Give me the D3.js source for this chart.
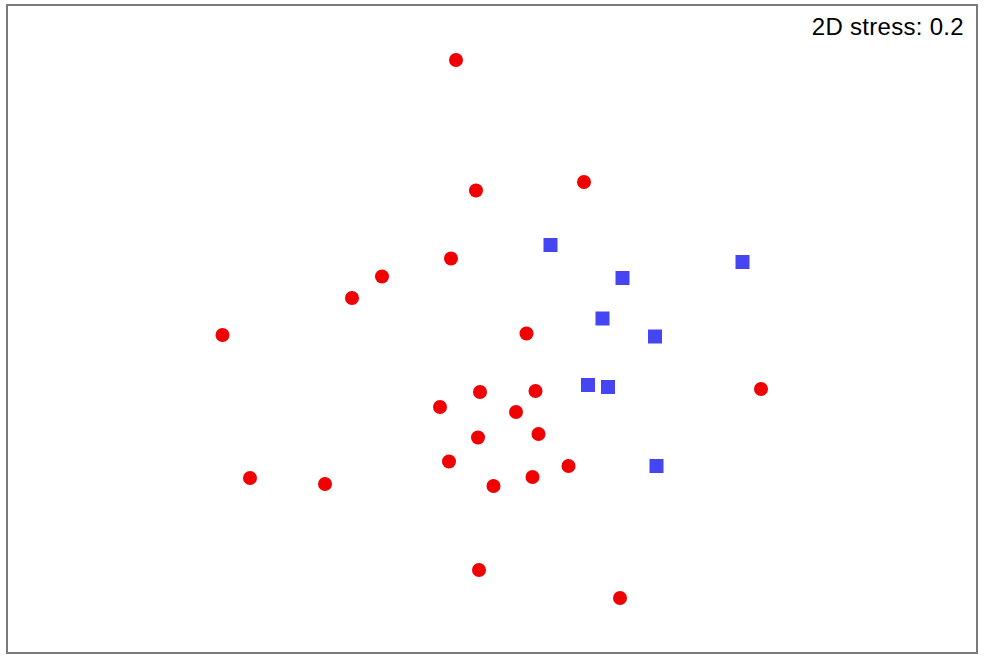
<!DOCTYPE html>
<html>
<head>
<meta charset="utf-8">
<script src="https://cdn.jsdelivr.net/npm/d3@7"></script>
<style>
  html, body { margin: 0; padding: 0; background: #ffffff; }
  svg { display: block; }
</style>
</head>
<body>
<svg id="chart" width="985" height="659"></svg>
<script>
// NMDS ordination scores (arbitrary units)
const groupAx = [-0.365, -0.165, 0.915, -0.415, -1.105, -1.405, -2.70, 0.34, 2.685, -0.125, 0.43, -0.525,
                 0.235, -0.145, 0.46, -0.435, 0.76, 0.40, 0.01, -2.425, -1.675, -0.135, 1.275];
const groupAy = [2.695, 1.39, 1.475, 0.71, 0.53, 0.315, -0.055, -0.04, -0.595, -0.625, -0.615, -0.775,
                 -0.825, -1.08, -1.045, -1.32, -1.365, -1.475, -1.565, -1.485, -1.545, -2.405, -2.685];
const groupBx = [0.58, 1.30, 2.50, 1.10, 1.625, 0.955, 1.155, 1.64];
const groupBy = [0.845, 0.515, 0.675, 0.11, -0.07, -0.555, -0.575, -1.365];
const stressLabel = "2D stress: 0.2";

(function () {
  const svg = d3.select("#chart");
  const pl = 7, pr = 977, pt = 5, pb = 653;

  const x = d3.scaleLinear().domain([-4.855, 4.845]).range([pl, pr]);
  const y = d3.scaleLinear().domain([-3.235, 3.245]).range([pb, pt]);

  svg.append("rect")
    .attr("x", pl).attr("y", pt)
    .attr("width", pr - pl).attr("height", pb - pt)
    .attr("fill", "#ffffff")
    .attr("stroke", "#7a7a7a")
    .attr("stroke-width", 2);

  const circles = groupAx.map((v, i) => ({x: v, y: groupAy[i]}));
  const squares = groupBx.map((v, i) => ({x: v, y: groupBy[i]}));

  svg.append("g").selectAll("circle").data(circles).join("circle")
    .attr("cx", d => x(d.x))
    .attr("cy", d => y(d.y))
    .attr("r", 7)
    .attr("fill", "#f00000");

  const s = 14;
  svg.append("g").selectAll("rect").data(squares).join("rect")
    .attr("x", d => x(d.x) - s / 2)
    .attr("y", d => y(d.y) - s / 2)
    .attr("width", s).attr("height", s)
    .attr("fill", "#4545f2");

  svg.append("text")
    .attr("x", 964).attr("y", 35)
    .attr("text-anchor", "end")
    .attr("font-family", "Liberation Sans, Arial, sans-serif")
    .attr("font-size", 24)
    .attr("letter-spacing", 0.3)
    .attr("fill", "#000")
    .text(stressLabel);
})();
</script>
</body>
</html>
